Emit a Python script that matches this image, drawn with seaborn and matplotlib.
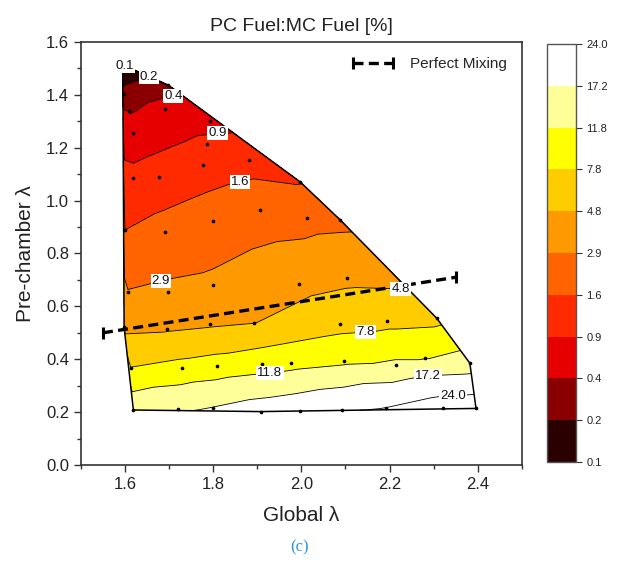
import numpy as np
import matplotlib
matplotlib.use("Agg")
import matplotlib.pyplot as plt
import matplotlib.tri as mtri
from matplotlib.colors import ListedColormap, BoundaryNorm
from matplotlib.cm import ScalarMappable
from matplotlib.collections import LineCollection
import seaborn as sns

# ---- data ----
global_lambda = [1.595, 1.698, 1.598, 1.691, 1.610, 1.793, 1.619, 1.785, 1.882, 1.778,
                 1.619, 1.678, 1.997, 1.906, 1.800, 2.012, 2.088, 1.600, 1.691,
                 1.607, 1.698, 1.800, 1.995, 2.104, 2.227,
                 1.598, 1.695, 1.793, 1.893, 2.088, 2.195, 2.307,
                 1.613, 1.729, 1.809, 1.910, 1.976, 2.097, 2.215, 2.280, 2.382,
                 1.619, 1.721, 1.799, 1.908, 1.997, 2.093, 2.191, 2.322, 2.396]
pc_lambda = [1.513, 1.437, 1.402, 1.345, 1.339, 1.302, 1.255, 1.213, 1.154, 1.135,
             1.084, 1.088, 1.071, 0.964, 0.924, 0.935, 0.927, 0.889, 0.882,
             0.655, 0.653, 0.681, 0.685, 0.706, 0.685,
             0.521, 0.514, 0.532, 0.538, 0.533, 0.546, 0.555,
             0.368, 0.368, 0.374, 0.382, 0.385, 0.393, 0.378, 0.404, 0.385,
             0.208, 0.212, 0.217, 0.202, 0.205, 0.208, 0.214, 0.214, 0.214]
fuel_ratio = [0.09, 0.28, 0.245, 0.52, 0.37, 0.73, 0.60, 1.02, 1.31, 1.23,
              1.05, 1.16, 1.55, 2.08, 2.0, 2.39, 2.53, 1.6, 1.88,
              2.95, 3.18, 3.2, 4.0, 4.27, 4.5,
              4.2, 4.55, 4.5, 4.75, 6.7, 6.7, 6.75,
              7.85, 8.7, 9.1, 9.7, 10.2, 10.9, 12.5, 11.6, 13.8,
              14.8, 16.2, 17.3, 20.1, 21.2, 22.7, 24.2, 27.8, 28.6]

levels = [0.1, 0.2, 0.4, 0.9, 1.6, 2.9, 4.8, 7.8, 11.8, 17.2, 24.0]
band_colors = ['#2a0000', '#8a0000', '#e60000', '#ff2a00', '#ff6400',
               '#ff9900', '#ffcc00', '#ffff00', '#ffff99', '#ffffff']

mix_x = [1.55, 2.35]
mix_y = [0.50, 0.71]

label_x = [1.611, 1.657, 1.709, 1.809, 1.861, 1.682, 2.226, 2.146, 1.929, 2.288, 2.344]
label_y = [1.509, 1.467, 1.399, 1.259, 1.067, 0.692, 0.639, 0.484, 0.344, 0.321, 0.253]

# ---- style ----
sns.set_style("ticks")
plt.rcParams['font.family'] = ['Liberation Sans', 'DejaVu Sans']

fig = plt.figure(figsize=(6.3, 5.62), dpi=100)
ax = fig.add_axes([0.1284, 0.1726, 0.700, 0.7527])
cax = fig.add_axes([0.8678, 0.1779, 0.0465, 0.7438])

cmap = ListedColormap(band_colors)
cmap.set_under(band_colors[0])
cmap.set_over(band_colors[-1])
norm = BoundaryNorm(levels, cmap.N)

tri = mtri.Triangulation(global_lambda, pc_lambda)
ax.tricontourf(tri, fuel_ratio, levels=levels, cmap=cmap, norm=norm, extend='both')
cl = ax.tricontour(tri, fuel_ratio, levels=levels, colors='black', linewidths=0.6)
texts = ax.clabel(cl, levels, inline=False, fmt='%.1f', fontsize=9.5,
                  manual=list(zip(label_x, label_y)))
for t in texts:
    t.set_rotation(0)
    t.set_bbox(dict(facecolor='white', edgecolor='none', pad=0.8))
    t.set_color('#111111')
    t.set_zorder(7)

# domain outline (boundary edges of triangulation)
segs = []
xs = np.asarray(global_lambda); ys = np.asarray(pc_lambda)
for ti, tr in enumerate(tri.triangles):
    for k in range(3):
        if tri.neighbors[ti, k] == -1:
            a, b = tr[k], tr[(k + 1) % 3]
            segs.append([(xs[a], ys[a]), (xs[b], ys[b])])
ax.add_collection(LineCollection(segs, colors='black', linewidths=1.1, zorder=4))

sns.scatterplot(x=global_lambda, y=pc_lambda, color='black', s=7, linewidth=0,
                ax=ax, zorder=5, legend=False)

ax.plot(mix_x, mix_y, color='black', lw=2.4, dashes=(3, 1.6), marker='|',
        markersize=8, markeredgewidth=2.2, zorder=6, label='Perfect Mixing')
ax.legend(loc='upper right', frameon=False, fontsize=11, handlelength=3.2,
          numpoints=2, borderaxespad=0.6)

ax.set_xlim(1.5, 2.5)
ax.set_ylim(0.0, 1.6)
ax.set_xticks([1.6, 1.8, 2.0, 2.2, 2.4])
ax.set_yticks(np.round(np.arange(0, 1.61, 0.2), 1))
ax.xaxis.set_minor_locator(matplotlib.ticker.MultipleLocator(0.1))
ax.yaxis.set_minor_locator(matplotlib.ticker.MultipleLocator(0.1))
ax.xaxis.set_major_formatter(matplotlib.ticker.FormatStrFormatter('%.1f'))
ax.yaxis.set_major_formatter(matplotlib.ticker.FormatStrFormatter('%.1f'))
ax.tick_params(which='both', direction='out', top=False, right=False,
               colors='#333333', labelcolor='#222222', width=1.0)
ax.tick_params(which='major', length=5, labelsize=12)
ax.tick_params(which='minor', length=3)
for s in ax.spines.values():
    s.set_linewidth(1.2)
    s.set_color('#333333')
    s.set_visible(True)

ax.set_xlabel('Global λ', fontsize=15, color='#222222', labelpad=10)
ax.set_ylabel('Pre-chamber λ', fontsize=15, color='#222222', labelpad=8)
ax.set_title('PC Fuel:MC Fuel [%]', fontsize=14, color='#222222', pad=8)

sm = ScalarMappable(norm=BoundaryNorm(levels, len(band_colors)), cmap=ListedColormap(band_colors))
cb = fig.colorbar(sm, cax=cax, ticks=levels)
cb.ax.set_yticklabels([f'{v:.1f}' for v in levels])
cb.ax.tick_params(labelsize=8, length=4, colors='#333333', labelcolor='#222222')
cb.outline.set_edgecolor('#555555')
cb.outline.set_linewidth(1.0)

fig.text(0.476, 1 - 547 / 562, '(c)', color='#2b95dd', fontsize=12,
         family=['Liberation Serif', 'DejaVu Serif'], ha='center', va='center')

fig.savefig('out.png', dpi=100)
